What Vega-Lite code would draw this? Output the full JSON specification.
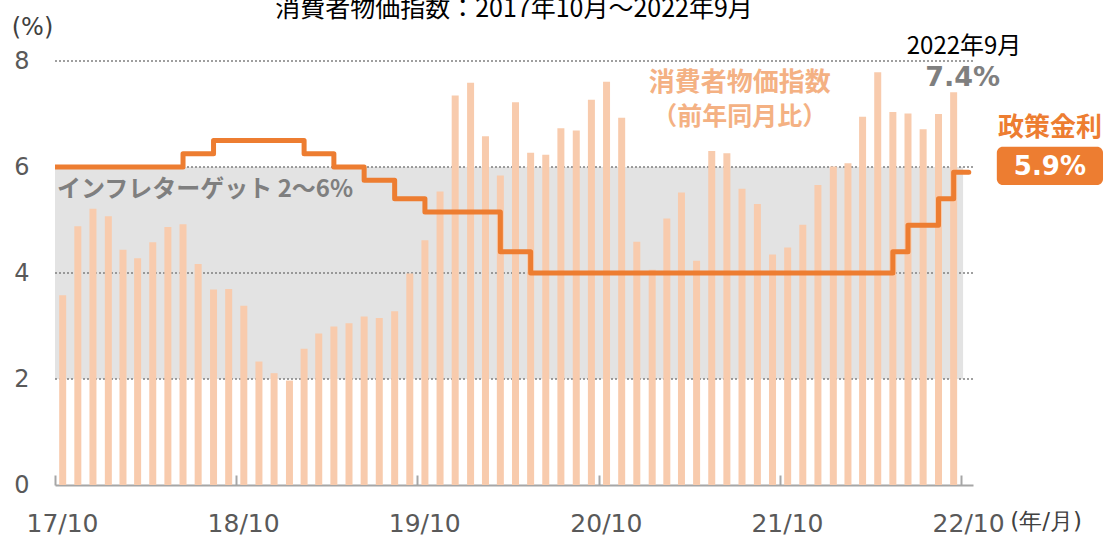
{
  "$schema": "https://vega.github.io/schema/vega-lite/v6.json",
  "width": 918,
  "height": 424,
  "autosize": "none",
  "padding": {"left": 55, "top": 61, "right": 132, "bottom": 51},
  "background": "white",
  "config": {"view": {"stroke": null}, "font": "Noto Sans CJK JP"},
  "title": {"text": "消費者物価指数：2017年10月～2022年9月", "fontSize": 25, "fontWeight": "normal", "color": "#000000", "font": "Noto Sans CJK JP", "anchor": "middle", "offset": -7},
  "datasets": {
    "cpi": [
      {"m": "2017-10-01", "cpi": 3.58}, {"m": "2017-11-01", "cpi": 4.88}, {"m": "2017-12-01", "cpi": 5.21},
      {"m": "2018-01-01", "cpi": 5.07}, {"m": "2018-02-01", "cpi": 4.44}, {"m": "2018-03-01", "cpi": 4.28},
      {"m": "2018-04-01", "cpi": 4.58}, {"m": "2018-05-01", "cpi": 4.87}, {"m": "2018-06-01", "cpi": 4.92},
      {"m": "2018-07-01", "cpi": 4.17}, {"m": "2018-08-01", "cpi": 3.69}, {"m": "2018-09-01", "cpi": 3.70},
      {"m": "2018-10-01", "cpi": 3.38}, {"m": "2018-11-01", "cpi": 2.33}, {"m": "2018-12-01", "cpi": 2.11},
      {"m": "2019-01-01", "cpi": 1.97}, {"m": "2019-02-01", "cpi": 2.57}, {"m": "2019-03-01", "cpi": 2.86},
      {"m": "2019-04-01", "cpi": 2.99}, {"m": "2019-05-01", "cpi": 3.05}, {"m": "2019-06-01", "cpi": 3.18},
      {"m": "2019-07-01", "cpi": 3.15}, {"m": "2019-08-01", "cpi": 3.28}, {"m": "2019-09-01", "cpi": 3.99},
      {"m": "2019-10-01", "cpi": 4.62}, {"m": "2019-11-01", "cpi": 5.54}, {"m": "2019-12-01", "cpi": 7.35},
      {"m": "2020-01-01", "cpi": 7.59}, {"m": "2020-02-01", "cpi": 6.58}, {"m": "2020-03-01", "cpi": 5.84},
      {"m": "2020-04-01", "cpi": 7.22}, {"m": "2020-05-01", "cpi": 6.27}, {"m": "2020-06-01", "cpi": 6.23},
      {"m": "2020-07-01", "cpi": 6.73}, {"m": "2020-08-01", "cpi": 6.69}, {"m": "2020-09-01", "cpi": 7.27},
      {"m": "2020-10-01", "cpi": 7.61}, {"m": "2020-11-01", "cpi": 6.93}, {"m": "2020-12-01", "cpi": 4.59},
      {"m": "2021-01-01", "cpi": 4.06}, {"m": "2021-02-01", "cpi": 5.03}, {"m": "2021-03-01", "cpi": 5.52},
      {"m": "2021-04-01", "cpi": 4.23}, {"m": "2021-05-01", "cpi": 6.30}, {"m": "2021-06-01", "cpi": 6.26},
      {"m": "2021-07-01", "cpi": 5.59}, {"m": "2021-08-01", "cpi": 5.30}, {"m": "2021-09-01", "cpi": 4.35},
      {"m": "2021-10-01", "cpi": 4.48}, {"m": "2021-11-01", "cpi": 4.91}, {"m": "2021-12-01", "cpi": 5.66},
      {"m": "2022-01-01", "cpi": 6.01}, {"m": "2022-02-01", "cpi": 6.07}, {"m": "2022-03-01", "cpi": 6.95},
      {"m": "2022-04-01", "cpi": 7.79}, {"m": "2022-05-01", "cpi": 7.04}, {"m": "2022-06-01", "cpi": 7.01},
      {"m": "2022-07-01", "cpi": 6.71}, {"m": "2022-08-01", "cpi": 7.00}, {"m": "2022-09-01", "cpi": 7.41}
    ],
    "rate": [
      {"m": "2017-09-01", "rate": 6.0}, {"m": "2017-10-01", "rate": 6.0}, {"m": "2017-11-01", "rate": 6.0},
      {"m": "2017-12-01", "rate": 6.0}, {"m": "2018-01-01", "rate": 6.0}, {"m": "2018-02-01", "rate": 6.0},
      {"m": "2018-03-01", "rate": 6.0}, {"m": "2018-04-01", "rate": 6.0}, {"m": "2018-05-01", "rate": 6.0},
      {"m": "2018-06-01", "rate": 6.25}, {"m": "2018-07-01", "rate": 6.25}, {"m": "2018-08-01", "rate": 6.5},
      {"m": "2018-09-01", "rate": 6.5}, {"m": "2018-10-01", "rate": 6.5}, {"m": "2018-11-01", "rate": 6.5},
      {"m": "2018-12-01", "rate": 6.5}, {"m": "2019-01-01", "rate": 6.5}, {"m": "2019-02-01", "rate": 6.25},
      {"m": "2019-03-01", "rate": 6.25}, {"m": "2019-04-01", "rate": 6.0}, {"m": "2019-05-01", "rate": 6.0},
      {"m": "2019-06-01", "rate": 5.75}, {"m": "2019-07-01", "rate": 5.75}, {"m": "2019-08-01", "rate": 5.4},
      {"m": "2019-09-01", "rate": 5.4}, {"m": "2019-10-01", "rate": 5.15}, {"m": "2019-11-01", "rate": 5.15},
      {"m": "2019-12-01", "rate": 5.15}, {"m": "2020-01-01", "rate": 5.15}, {"m": "2020-02-01", "rate": 5.15},
      {"m": "2020-03-01", "rate": 4.4}, {"m": "2020-04-01", "rate": 4.4}, {"m": "2020-05-01", "rate": 4.0},
      {"m": "2020-06-01", "rate": 4.0}, {"m": "2020-07-01", "rate": 4.0}, {"m": "2020-08-01", "rate": 4.0},
      {"m": "2020-09-01", "rate": 4.0}, {"m": "2020-10-01", "rate": 4.0}, {"m": "2020-11-01", "rate": 4.0},
      {"m": "2020-12-01", "rate": 4.0}, {"m": "2021-01-01", "rate": 4.0}, {"m": "2021-02-01", "rate": 4.0},
      {"m": "2021-03-01", "rate": 4.0}, {"m": "2021-04-01", "rate": 4.0}, {"m": "2021-05-01", "rate": 4.0},
      {"m": "2021-06-01", "rate": 4.0}, {"m": "2021-07-01", "rate": 4.0}, {"m": "2021-08-01", "rate": 4.0},
      {"m": "2021-09-01", "rate": 4.0}, {"m": "2021-10-01", "rate": 4.0}, {"m": "2021-11-01", "rate": 4.0},
      {"m": "2021-12-01", "rate": 4.0}, {"m": "2022-01-01", "rate": 4.0}, {"m": "2022-02-01", "rate": 4.0},
      {"m": "2022-03-01", "rate": 4.0}, {"m": "2022-04-01", "rate": 4.0}, {"m": "2022-05-01", "rate": 4.4},
      {"m": "2022-06-01", "rate": 4.9}, {"m": "2022-07-01", "rate": 4.9}, {"m": "2022-08-01", "rate": 5.4},
      {"m": "2022-09-01", "rate": 5.9}, {"m": "2022-10-01", "rate": 5.9}
    ],
    "one": [{}],
    "grid": [{"v": 2}, {"v": 4}, {"v": 6}, {"v": 8}]
  },
  "layer": [
    {
      "data": {"name": "cpi"},
      "mark": {"type": "bar", "color": "#f8cbad", "width": 7, "opacity": 0},
      "encoding": {
        "x": {
          "field": "m", "timeUnit": "utcyearmonth", "type": "temporal", "bandPosition": 0.5, "title": null,
          "scale": {"type": "utc", "domain": [{"year": 2017, "month": 10, "date": 1, "utc": true}, {"year": 2022, "month": 10, "date": 25, "utc": true}]},
          "axis": {
            "title": null,
            "values": [
              {"year": 2017, "month": 10, "date": 1, "utc": true},
              {"year": 2018, "month": 10, "date": 1, "utc": true},
              {"year": 2019, "month": 10, "date": 1, "utc": true},
              {"year": 2020, "month": 10, "date": 1, "utc": true},
              {"year": 2021, "month": 10, "date": 1, "utc": true},
              {"year": 2022, "month": 10, "date": 1, "utc": true}
            ],
            "labelExpr": "utcFormat(datum.value, '%y/%m')",
            "labelFont": "DejaVu Sans", "labelFontSize": 25, "labelColor": "#595959",
            "labelOffset": 7, "labelPadding": 36, "labelBaseline": "top",
            "domainColor": "#a6a6a6", "domainWidth": 2,
            "ticks": true, "tickSize": -10, "tickColor": "#a6a6a6", "tickWidth": 2,
            "grid": false, "labelFlush": false, "labelOverlap": false
          }
        },
        "y": {
          "field": "cpi", "type": "quantitative", "title": "(%)",
          "scale": {"domain": [0, 8], "nice": false},
          "axis": {
            "title": "(%)", "titleAngle": 0, "titleX": -23, "titleY": -34, "titleAlign": "center", "titleBaseline": "middle",
            "titleFont": "DejaVu Sans", "titleFontSize": 24, "titleFontWeight": "normal", "titleColor": "#404040",
            "values": [0, 2, 4, 6, 8],
            "labelFont": "DejaVu Sans", "labelFontSize": 24, "labelColor": "#595959", "labelPadding": 26,
            "domain": false, "ticks": false, "grid": false
          }
        }
      }
    },
    {
      "data": {"name": "one"},
      "mark": {"type": "rect", "color": "#e3e3e3"},
      "encoding": {
        "x": {"datum": {"year": 2017, "month": 10, "date": 1, "utc": true}, "type": "temporal", "scale": {"type": "utc"}},
        "x2": {"datum": {"year": 2022, "month": 10, "date": 5, "utc": true}},
        "y": {"datum": 2, "type": "quantitative"},
        "y2": {"datum": 6}
      }
    },
    {
      "data": {"name": "grid"},
      "mark": {"type": "rule", "color": "#808080", "strokeWidth": 1.5, "strokeDash": [2, 2]},
      "encoding": {
        "y": {"field": "v", "type": "quantitative"}
      }
    },
    {
      "data": {"name": "cpi"},
      "mark": {"type": "bar", "color": "#f8cbad", "width": 7},
      "encoding": {
        "x": {"field": "m", "timeUnit": "utcyearmonth", "type": "temporal", "bandPosition": 0.5, "scale": {"type": "utc"}},
        "y": {"field": "cpi", "type": "quantitative"}
      }
    },
    {
      "data": {"name": "rate"},
      "mark": {"type": "line", "color": "#ed7d31", "strokeWidth": 5, "interpolate": "step-after", "clip": true, "strokeJoin": "round", "strokeCap": "round"},
      "encoding": {
        "x": {"field": "m", "timeUnit": "utcyearmonth", "type": "temporal", "bandPosition": 0.5, "scale": {"type": "utc"}},
        "y": {"field": "rate", "type": "quantitative"}
      }
    },
    {
      "data": {"name": "one"},
      "mark": {"type": "text", "text": "インフレターゲット  2～6%", "align": "left", "baseline": "middle", "font": "Noto Sans CJK JP", "fontSize": 24, "fontWeight": "bold", "color": "#7f7f7f"},
      "encoding": {
        "x": {"datum": {"year": 2017, "month": 10, "date": 5, "utc": true}, "type": "temporal", "scale": {"type": "utc"}},
        "y": {"datum": 5.57, "type": "quantitative"}
      }
    },
    {
      "data": {"name": "one"},
      "mark": {"type": "text", "text": "消費者物価指数", "align": "center", "baseline": "middle", "font": "Noto Sans CJK JP", "fontSize": 26, "fontWeight": "bold", "color": "#f4b183"},
      "encoding": {
        "x": {"datum": {"year": 2021, "month": 7, "date": 12, "utc": true}, "type": "temporal", "scale": {"type": "utc"}},
        "y": {"datum": 7.58, "type": "quantitative"}
      }
    },
    {
      "data": {"name": "one"},
      "mark": {"type": "text", "text": "（前年同月比）", "align": "center", "baseline": "middle", "font": "Noto Sans CJK JP", "fontSize": 25, "fontWeight": "bold", "color": "#f4b183"},
      "encoding": {
        "x": {"datum": {"year": 2021, "month": 7, "date": 12, "utc": true}, "type": "temporal", "scale": {"type": "utc"}},
        "y": {"datum": 6.94, "type": "quantitative"}
      }
    },
    {
      "data": {"name": "one"},
      "mark": {"type": "text", "text": "2022年9月", "align": "center", "baseline": "middle", "font": "Noto Sans CJK JP", "fontSize": 24, "fontWeight": "normal", "color": "#000000"},
      "encoding": {
        "x": {"datum": {"year": 2022, "month": 10, "date": 7, "utc": true}, "type": "temporal", "scale": {"type": "utc"}},
        "y": {"datum": 8.26, "type": "quantitative"}
      }
    },
    {
      "data": {"name": "one"},
      "mark": {"type": "text", "text": "7.4%", "align": "center", "baseline": "middle", "font": "DejaVu Sans", "fontSize": 27, "fontWeight": "bold", "color": "#7f7f7f", "letterSpacing": 4},
      "encoding": {
        "x": {"datum": {"year": 2022, "month": 10, "date": 4, "utc": true}, "type": "temporal", "scale": {"type": "utc"}},
        "y": {"datum": 7.68, "type": "quantitative"}
      }
    },
    {
      "data": {"name": "one"},
      "mark": {"type": "text", "text": "政策金利", "align": "center", "baseline": "middle", "font": "Noto Sans CJK JP", "fontSize": 26, "fontWeight": "bold", "color": "#ed7d31"},
      "encoding": {
        "x": {"datum": {"year": 2023, "month": 3, "date": 29, "utc": true}, "type": "temporal", "scale": {"type": "utc"}},
        "y": {"datum": 6.74, "type": "quantitative"}
      }
    },
    {
      "data": {"name": "one"},
      "mark": {"type": "rect", "color": "#ed7d31", "cornerRadius": 6},
      "encoding": {
        "x": {"datum": {"year": 2022, "month": 12, "date": 12, "utc": true}, "type": "temporal", "scale": {"type": "utc"}},
        "x2": {"datum": {"year": 2023, "month": 7, "date": 14, "utc": true}},
        "y": {"datum": 6.38, "type": "quantitative"},
        "y2": {"datum": 5.66}
      }
    },
    {
      "data": {"name": "one"},
      "mark": {"type": "text", "text": "5.9%", "align": "center", "baseline": "middle", "font": "DejaVu Sans", "fontSize": 26, "fontWeight": "bold", "color": "#ffffff"},
      "encoding": {
        "x": {"datum": {"year": 2023, "month": 3, "date": 29, "utc": true}, "type": "temporal", "scale": {"type": "utc"}},
        "y": {"datum": 6.0, "type": "quantitative"}
      }
    },
    {
      "data": {"name": "one"},
      "mark": {"type": "text", "text": "(年/月)", "align": "left", "baseline": "middle", "font": "DejaVu Sans", "fontSize": 23, "fontWeight": "normal", "color": "#404040"},
      "encoding": {
        "x": {"datum": {"year": 2023, "month": 1, "date": 8, "utc": true}, "type": "temporal", "scale": {"type": "utc"}},
        "y": {"datum": -0.7, "type": "quantitative"}
      }
    }
  ]
}
